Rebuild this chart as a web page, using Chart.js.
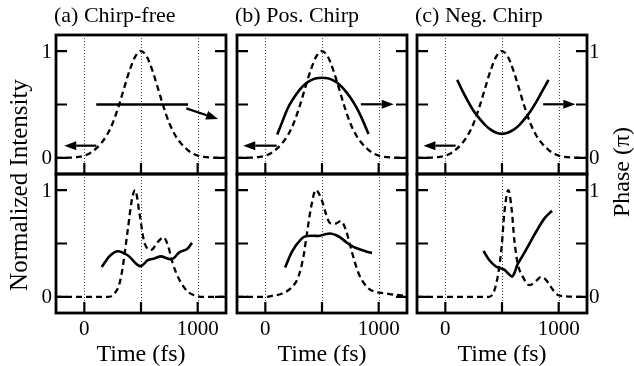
<!DOCTYPE html>
<html><head><meta charset="utf-8">
<script src="https://cdn.jsdelivr.net/npm/chart.js@4.4.0/dist/chart.umd.min.js"></script>
<style>
html,body{margin:0;padding:0;background:#fff;}
#wrap{position:relative;width:634px;height:366px;overflow:hidden;font-family:'Liberation Serif','Times New Roman',serif;color:#000;}
canvas{position:absolute;}
.t{position:absolute;white-space:nowrap;line-height:1;}
</style></head><body><div id="wrap"></div>
<script>
// ---- text ----
const panelTitles = ['(a) Chirp-free', '(b) Pos. Chirp', '(c) Neg. Chirp'];
const xTitle = 'Time (fs)';
const yTitleLeft = 'Normalized Intensity';
const yTitleRight = 'Phase (\u03c0)';
// ---- ticks ----
const xTicks = [0, 500, 1000];
const xTickLabels = ['0', '', '1000'];
const yTicks = [0, 0.5, 1];
const yTickLabels = ['0', '', '1'];
// ---- top row: input pulse intensity (same in all three) ----
const tTop = [-250,-150,-50,0,50,100,150,200,250,300,350,400,450,500,550,600,650,700,750,800,850,900,950,1000,1050,1150,1250];
const intensityTop = [0,0.002,0.01,0.022,0.045,0.085,0.14,0.215,0.325,0.475,0.65,0.82,0.95,1,0.95,0.82,0.65,0.475,0.325,0.215,0.14,0.085,0.045,0.022,0.01,0.002,0];
// ---- top row: phases ----
const tPhaseA = [105, 915];
const phaseA = [0.5, 0.5];
const tPhaseTop = [105,150,200,250,300,350,400,450,500,550,600,650,700,750,800,850,910];
const phaseB = [0.22,0.34,0.47,0.56,0.635,0.69,0.725,0.745,0.75,0.745,0.725,0.69,0.635,0.565,0.48,0.375,0.225];
const phaseC = [0.73,0.63,0.53,0.44,0.37,0.31,0.265,0.235,0.225,0.235,0.262,0.305,0.365,0.435,0.52,0.615,0.73];
// ---- bottom row: output intensities ----
const tIntA = [-250,200,265,310,339,383,419,448,487,525,560,590,649,699,737,781,841,915,988,1050,1250];
const intA = [0,0,0.03,0.125,0.28,0.625,0.906,1,0.78,0.53,0.45,0.44,0.515,0.557,0.485,0.31,0.156,0.047,0.01,0,0];
const tIntB = [-250,0,56,144,233,292,336,365,404,445,498,534,572,616,666,711,764,823,896,970,1050,1150,1250];
const intB = [0,0,0.01,0.03,0.09,0.19,0.375,0.58,0.84,1,0.906,0.78,0.69,0.685,0.71,0.625,0.42,0.22,0.094,0.047,0.035,0.02,0.01];
const tIntC = [-250,387,432,467,497,520,556,586,609,639,683,742,800,843,884,934,976,1020,1250];
const intC = [0,0,0.06,0.22,0.47,0.78,1,0.81,0.53,0.31,0.19,0.11,0.15,0.185,0.165,0.09,0.03,0.01,0];
// ---- bottom row: output phases ----
const tPhA = [153,221,295,383,496,561,619,678,720,767,841,909,950];
const phA = [0.28,0.38,0.428,0.39,0.288,0.344,0.36,0.38,0.365,0.35,0.42,0.45,0.506];
const tPhB = [174,233,306,365,420,469,520,572,620,660,705,749,795,837,890,941];
const phB = [0.275,0.42,0.53,0.57,0.572,0.57,0.585,0.594,0.58,0.557,0.52,0.485,0.46,0.444,0.425,0.41];
const tPhC = [337,387,446,480,520,555,590,612,635,668,728,769,801,875,941];
const phC = [0.43,0.345,0.285,0.27,0.255,0.22,0.19,0.23,0.3,0.36,0.47,0.55,0.61,0.735,0.806];
// ---- axis-pointing arrows (data units: tail t, tail y, head t, head y) ----
const arrowsA = [[106,0.115,-177,0.115],[900,0.464,1180,0.364]];
const arrowsB = [[100,0.115,-195,0.115],[843,0.502,1133,0.502]];
const arrowsC = [[91,0.115,-193,0.115],[863,0.502,1147,0.502]];

// ---- layout ----
const colLeft = [56, 237, 417], colW = 170;
const rowTop = [35, 174], rowH = 139;
const PAD = 6;

const panels = [
  {col:0,row:0, lines:[[tTop,intensityTop,true],[tPhaseA,phaseA,false]], arrows:arrowsA},
  {col:1,row:0, lines:[[tTop,intensityTop,true],[tPhaseTop,phaseB,false]], arrows:arrowsB},
  {col:2,row:0, lines:[[tTop,intensityTop,true],[tPhaseTop,phaseC,false]], arrows:arrowsC},
  {col:0,row:1, lines:[[tIntA,intA,true],[tPhA,phA,false]], arrows:[]},
  {col:1,row:1, lines:[[tIntB,intB,true],[tPhB,phB,false]], arrows:[]},
  {col:2,row:1, lines:[[tIntC,intC,true],[tPhC,phC,false]], arrows:[]}
];

const wrap = document.getElementById('wrap');
function addText(txt, css){
  const d = document.createElement('div'); d.className='t'; d.textContent = txt;
  Object.assign(d.style, css); wrap.appendChild(d); return d;
}

function drawArrow(ctx,x0,y0,x1,y1){
  const ang = Math.atan2(y1-y0, x1-x0), L = 12, W = 4.5;
  const bx = x1 - L*Math.cos(ang), by = y1 - L*Math.sin(ang);
  ctx.lineWidth = 2.2; ctx.setLineDash([]);
  ctx.beginPath(); ctx.moveTo(x0,y0); ctx.lineTo(bx,by); ctx.stroke();
  ctx.beginPath(); ctx.moveTo(x1,y1);
  ctx.lineTo(bx + W*Math.sin(ang), by - W*Math.cos(ang));
  ctx.lineTo(bx - W*Math.sin(ang), by + W*Math.cos(ang));
  ctx.closePath(); ctx.fill();
}

const framePlugin = {
  id: 'frame',
  beforeDatasetsDraw(chart){
    const {ctx, chartArea:a, scales:{x}} = chart;
    ctx.save(); ctx.strokeStyle = '#444'; ctx.lineWidth = 1; ctx.setLineDash([1,2]);
    xTicks.forEach(v => {
      const px = Math.round(x.getPixelForValue(v)) + 0.5;
      ctx.beginPath(); ctx.moveTo(px, a.top); ctx.lineTo(px, a.bottom); ctx.stroke();
    });
    ctx.restore();
  },
  afterDatasetsDraw(chart, args, opts){
    const {ctx, chartArea:a, scales:{x,y}} = chart;
    ctx.save(); ctx.strokeStyle = '#000'; ctx.fillStyle = '#000'; ctx.setLineDash([]);
    ctx.lineWidth = 2.2;
    const tl = 11;
    yTicks.forEach(v => {
      const py = y.getPixelForValue(v);
      ctx.beginPath(); ctx.moveTo(a.left, py); ctx.lineTo(a.left+tl, py);
      ctx.moveTo(a.right, py); ctx.lineTo(a.right-tl, py); ctx.stroke();
    });
    xTicks.forEach(v => {
      const px = x.getPixelForValue(v);
      ctx.beginPath(); ctx.moveTo(px, a.bottom); ctx.lineTo(px, a.bottom-tl); ctx.stroke();
    });
    (opts.arrows || []).forEach(r => {
      drawArrow(ctx, x.getPixelForValue(r[0]), y.getPixelForValue(r[1]), x.getPixelForValue(r[2]), y.getPixelForValue(r[3]));
    });
    ctx.lineWidth = 2.8;
    ctx.strokeRect(a.left, a.top, a.right-a.left, a.bottom-a.top);
    ctx.restore();
  }
};

panels.forEach(p => {
  const cv = document.createElement('canvas');
  const L = colLeft[p.col] - PAD, T = rowTop[p.row] - PAD;
  const W = colW + 2*PAD, H = rowH + 2*PAD;
  cv.width = W; cv.height = H;
  cv.style.left = L + 'px'; cv.style.top = T + 'px';
  cv.style.width = W + 'px'; cv.style.height = H + 'px';
  wrap.appendChild(cv);
  const datasets = p.lines.map(([ts, vs, dashed]) => ({
    data: ts.map((t,i) => ({x:t, y:vs[i]})),
    borderColor: '#000',
    borderWidth: dashed ? 2.3 : 2.6,
    borderDash: dashed ? [6,4] : [],
    pointRadius: 0,
    fill: false,
    cubicInterpolationMode: 'monotone'
  }));
  const chart = new Chart(cv, {
    type: 'line',
    data: {datasets},
    options: {
      responsive: false, animation: false, devicePixelRatio: 1, events: [],
      layout: {padding: PAD},
      scales: {
        x: {type:'linear', min:-250, max:1250, display:false},
        y: {type:'linear', min:-0.15, max:1.15, display:false}
      },
      plugins: {legend:{display:false}, tooltip:{enabled:false}, frame:{arrows:p.arrows}}
    },
    plugins: [framePlugin]
  });
  const a = chart.chartArea, sx = chart.scales.x, sy = chart.scales.y;
  if (p.row === 1) {
    xTicks.forEach((v,i) => {
      if (!xTickLabels[i]) return;
      addText(xTickLabels[i], {fontSize:'21px', left:(L + sx.getPixelForValue(v))+'px', top:(T + a.bottom + 15 - 10.5)+'px', transform:'translateX(-50%)'});
    });
    addText(xTitle, {fontSize:'24px', left:(L + (a.left+a.right)/2)+'px', top:(T + a.bottom + 28)+'px', transform:'translateX(-50%)'});
  }
  if (p.col === 0) {
    yTicks.forEach((v,i) => {
      if (!yTickLabels[i]) return;
      addText(yTickLabels[i], {fontSize:'21px', right:(634 - (L + a.left - 4))+'px', top:(T + sy.getPixelForValue(v) - 10.5)+'px'});
    });
  }
  if (p.col === 2) {
    yTicks.forEach((v,i) => {
      if (!yTickLabels[i]) return;
      addText(yTickLabels[i], {fontSize:'21px', left:(L + a.right + 2)+'px', top:(T + sy.getPixelForValue(v) - 10.5)+'px'});
    });
  }
  if (p.row === 0) {
    addText(panelTitles[p.col], {fontSize:'22px', left:(L + a.left - 2)+'px', top:(T + a.top - 31)+'px'});
  }
});
addText(yTitleLeft, {fontSize:'25px', left:'18px', top:'185px', transform:'translate(-50%,-50%) rotate(-90deg)'});
addText(yTitleRight, {fontSize:'24px', left:'621px', top:'172px', transform:'translate(-50%,-50%) rotate(-90deg)'});
</script></body></html>
